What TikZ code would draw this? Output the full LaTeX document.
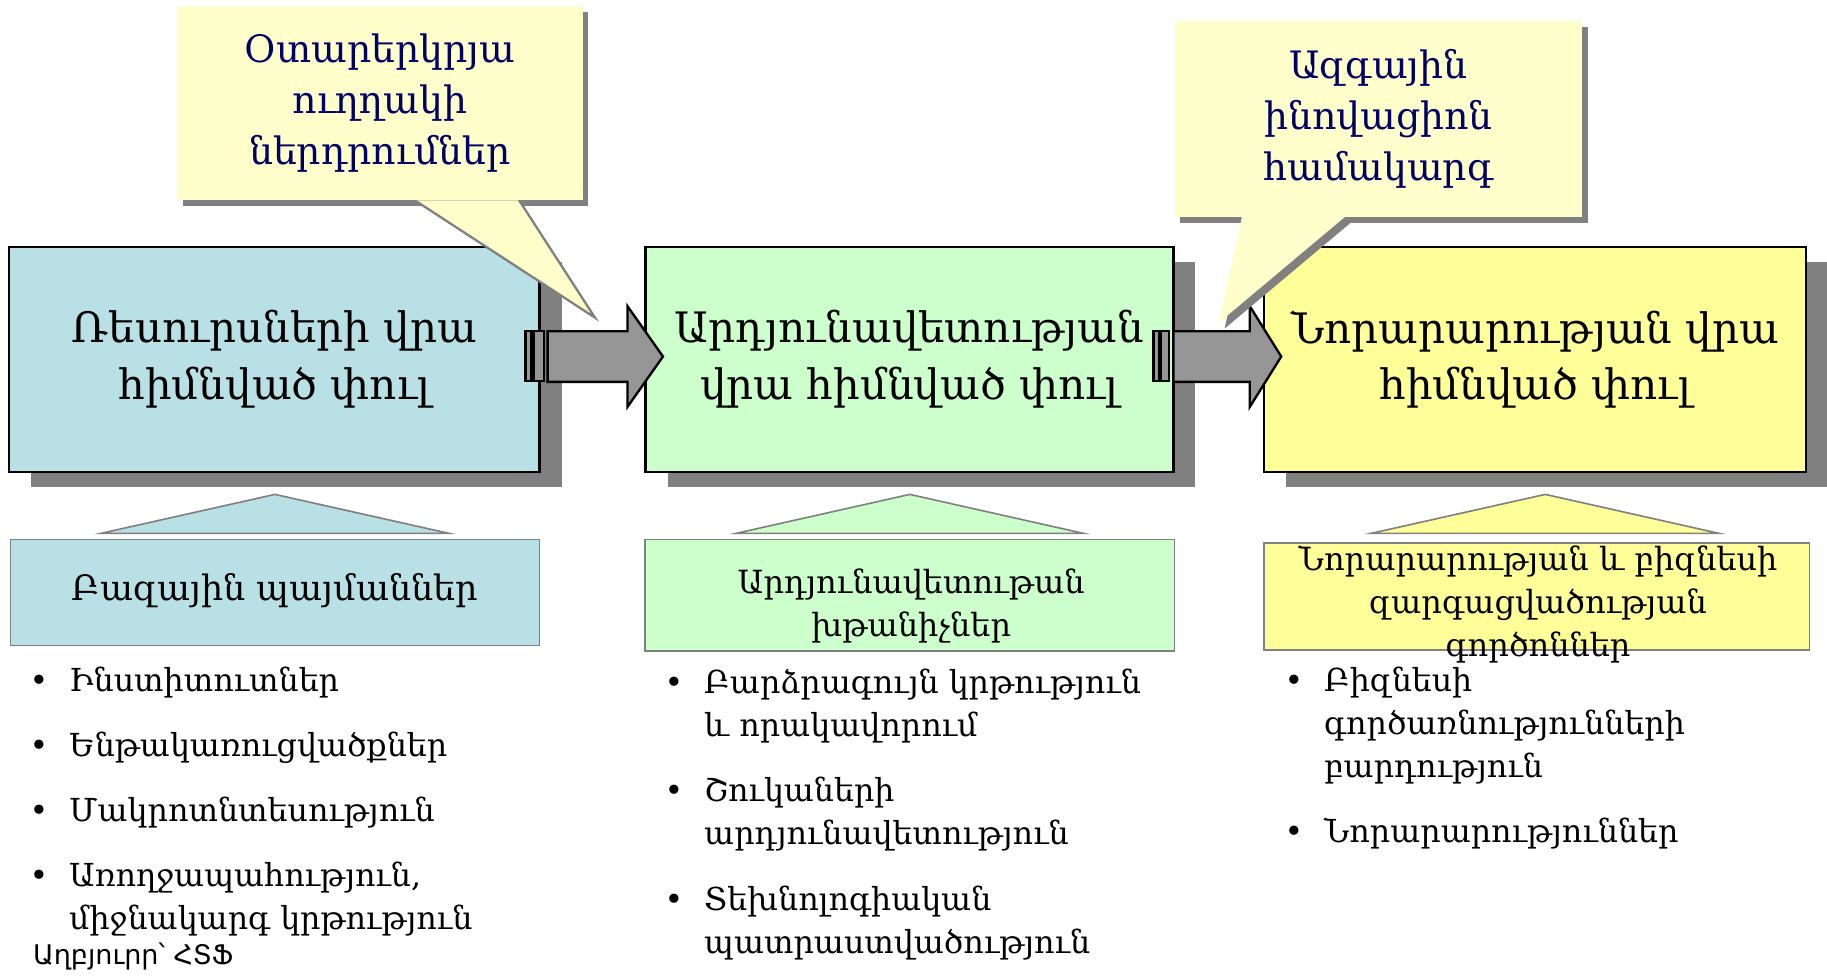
\documentclass[tikz,border=0pt]{standalone}
\usepackage{fontspec}
\setmainfont{DejaVu Serif}
\newfontfamily\srcfont{DejaVu Sans}
\usetikzlibrary{shadows}
\definecolor{resblue}{HTML}{B9E0E4}
\definecolor{effgreen}{HTML}{CCFFCC}
\definecolor{innyellow}{HTML}{FFFF99}
\definecolor{notefill}{HTML}{FFFFCC}
\definecolor{notetext}{HTML}{000066}
\definecolor{shadowgray}{HTML}{808080}
\definecolor{arrowgray}{HTML}{969696}

\begin{document}
\begin{tikzpicture}[x=0.5pt,y=-0.5pt]

\tikzset{phase/.style = {draw, line width=1pt, minimum height=96.5pt, align=center,
  font=\fontsize{18}{24.3}\selectfont,
  drop shadow={shadow xshift=9.5pt, shadow yshift=-6.5pt, fill=shadowgray, opacity=1}}}
\tikzset{factor/.style = {draw=shadowgray, line width=0.7pt, minimum height=46pt}}
\tikzset{ftext/.style = {align=center, font=\fontsize{13.7}{18.5}\selectfont}}
\tikzset{note/.style = {fill=notefill, minimum width=174pt, minimum height=83.5pt,
  align=center, text=notetext, font=\fontsize{16.2}{22}\selectfont,
  drop shadow={shadow xshift=2.5pt, shadow yshift=-2.5pt, fill=shadowgray, opacity=1}}}
\tikzset{tip/.style = {fill=notefill,
  drop shadow={shadow xshift=2.5pt, shadow yshift=-2.5pt, fill=shadowgray, opacity=1}}}
\tikzset{blk/.style = {draw, line width=1pt, fill=arrowgray}}
\tikzset{roof/.style = {draw=shadowgray, line width=0.7pt}}
\tikzset{item/.style = {anchor=base west, inner sep=0pt, font=\fontsize{13.6}{18.5}\selectfont}}
\newcommand{\itm}[1]{\makebox[17pt][l]{•}\parbox[t]{8cm}{\raggedright #1}}
%\draw[help lines] (0,0) grid (1568,839);
\useasboundingbox (0,0) rectangle (1568,839);

% stages
\node[phase, fill=resblue, minimum width=227.5pt] (p1) at (235.5,308.5) {Ռեսուրսների վրա\\հիմնված փուլ};
\node[phase, fill=effgreen, minimum width=226.5pt] (p2) at (780.5,308.5) {Արդյունավետության\\վրա հիմնված փուլ};
\node[phase, fill=innyellow, minimum width=232.5pt] (p3) at (1317.5,308.5) {Նորարարության վրա\\հիմնված փուլ};

% arrows
\draw[blk] (p1.east) ++(-13,-24.25) rectangle ++(5,43);
\draw[blk] (p1.east) ++(-6,-24.25) rectangle ++(9,43);
\draw[blk] (p1.east) ++(6,-24.25) -- ++(68.5,0) -- ++(0,-21.5) -- ++(30.5,43.25)
  -- ++(-30.5,43.25) -- ++(0,-21.5) -- ++(-68.5,0) -- cycle;
\draw[blk] (p2.east) ++(-18,-24.25) rectangle ++(5,43);
\draw[blk] (p2.east) ++(-11.5,-24.25) rectangle ++(7,43);
\draw[blk] (p2.east) ++(-1,-24.25) -- ++(65.6,0) -- ++(0,-21.5) -- ++(27,43.25)
  -- ++(-27,43.25) -- ++(0,-21.5) -- ++(-65.6,0) -- cycle;

% callouts
\node[note] (c1) at (326,88.5) {Օտարերկրյա\\ուղղակի\\ներդրումներ};
\fill[tip] (357,172) -- (509,271) -- (445,172) -- cycle;
\draw[shadowgray, line width=0.5pt] (357,172) -- (509,271) -- (445,172);
\node[note, minimum width=175pt, minimum height=84pt] (c2) at (1183,102) {Ազգային\\ինովացիոն\\համակարգ};
\fill[tip] (1066,185.5) -- (1046,277) -- (1155,185.5) -- cycle;

% factors
\node[factor, fill=resblue, minimum width=227pt, minimum height=45.5pt] (f1) at (236,508.5) {};
\node[factor, fill=effgreen, minimum width=227.2pt, minimum height=47.8pt] (f2) at (780.8,510.8) {};
\node[factor, fill=innyellow, minimum width=234pt] (f3) at (1319,512) {};
\draw[roof, fill=resblue] (f1.north) ++(-149.5,-4.5) -- ++(149.5,-33.5) -- ++(149.5,33.5) -- cycle;
\draw[roof, fill=effgreen] (f2.north) ++(-149.2,-4.5) -- ++(149.2,-33.5) -- ++(149.2,33.5) -- cycle;
\draw[roof, fill=innyellow] (f3.north) ++(-142.4,-7.5) -- ++(149.6,-33.5) -- ++(149.2,33.5) -- cycle;
\node[ftext, font=\fontsize{15}{18.5}\selectfont] (g1) at (236,507) {Բազային պայմաններ};
\node[ftext] (g2) at (782,520) {Արդյունավետութան\\խթանիչներ};
\node[ftext] (g3) at (1320,519) {Նորարարության և բիզնեսի\\զարգացվածության\\գործոններ};

% lists
\node[item] (l11) at (25,593.5) {\itm{Ինստիտուտներ}};
\node[item] (l12) at (25,649) {\itm{Ենթակառուցվածքներ}};
\node[item] (l13) at (25,705) {\itm{Մակրոտնտեսություն}};
\node[item] (l14) at (25,761) {\itm{Առողջապահություն,\\միջնակարգ կրթություն}};
\node[item] (l21) at (570,595) {\itm{Բարձրագույն կրթություն\\և որակավորում}};
\node[item] (l22) at (570,688) {\itm{Շուկաների\\արդյունավետություն}};
\node[item] (l23) at (570,781) {\itm{Տեխնոլոգիական\\պատրաստվածություն}};
\node[item] (l31) at (1102,593.5) {\itm{Բիզնեսի\\գործառնությունների\\բարդություն}};
\node[item] (l32) at (1102,723) {\itm{Նորարարություններ}};
\node[item, font=\srcfont\fontsize{11.6}{13}\selectfont] (src) at (28,828) {Աղբյուրր՝ ՀՏՖ};

\end{tikzpicture}
\end{document}
